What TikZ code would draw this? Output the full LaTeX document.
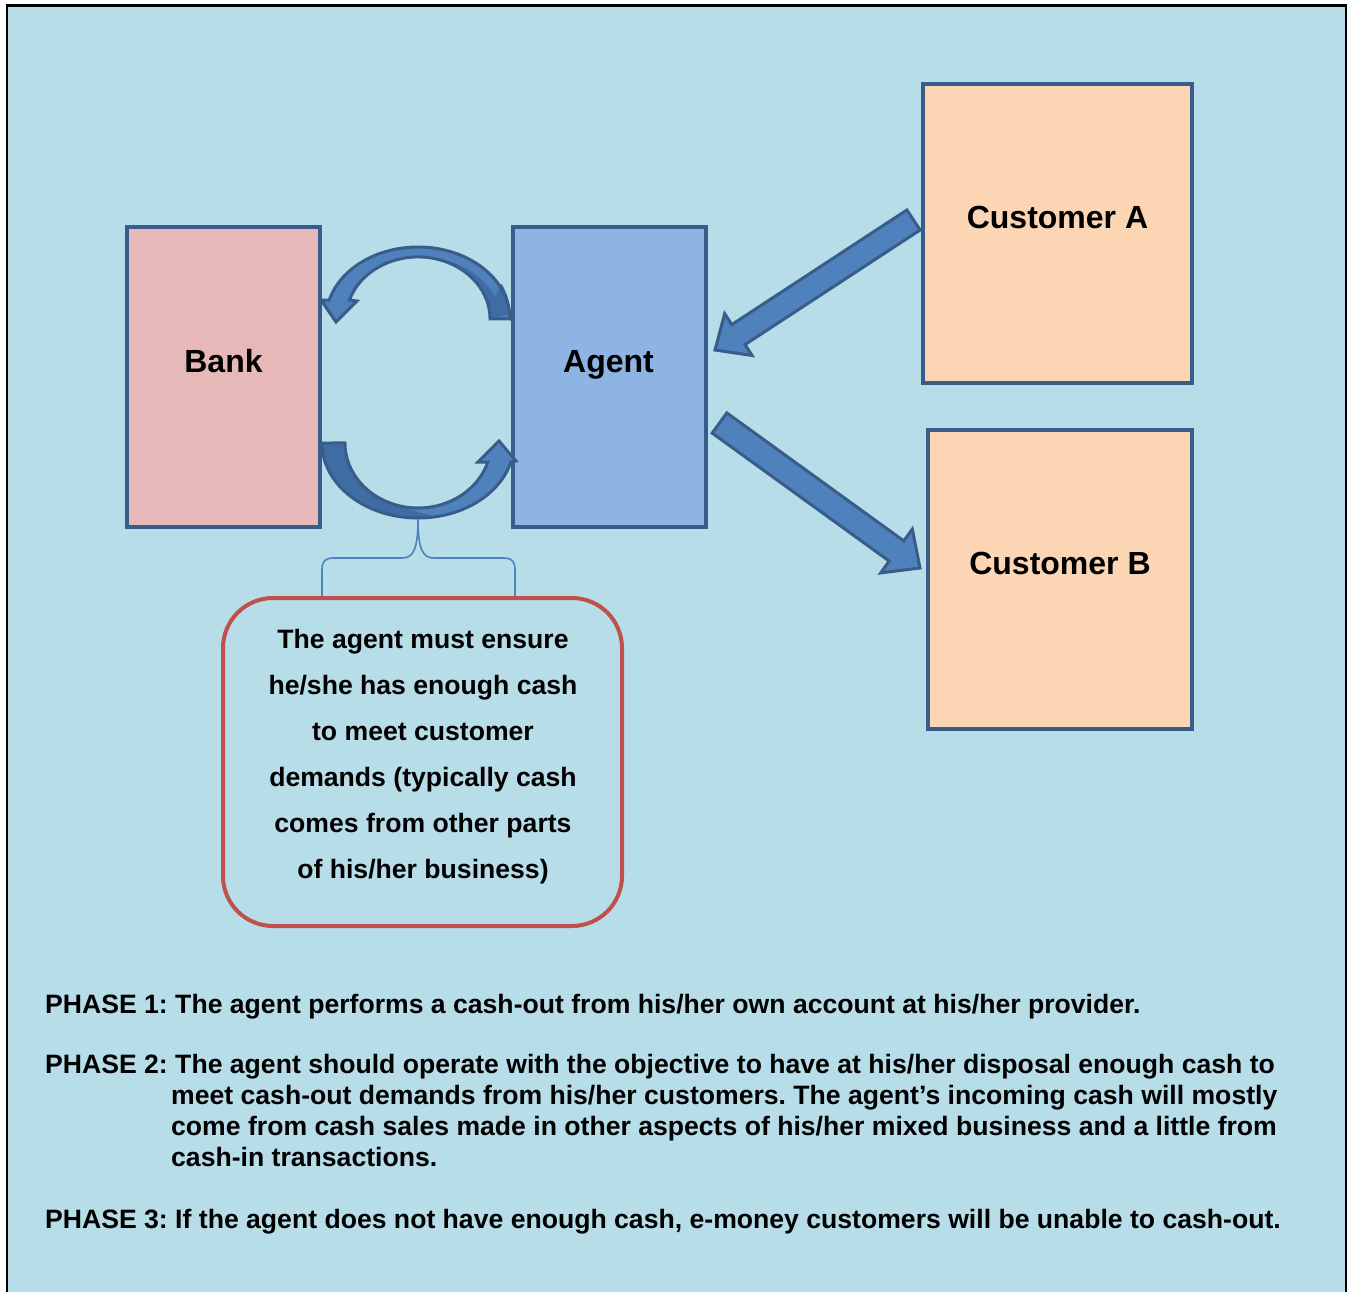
\documentclass[tikz,border=0pt]{standalone}
\usepackage{fontspec}
\setmainfont{Liberation Sans}
\frenchspacing
\definecolor{bgblue}{HTML}{B7DDE8}
\definecolor{edgeblue}{HTML}{385D8A}
\definecolor{arrowblue}{HTML}{4F81BD}
\definecolor{arrowdark}{HTML}{3F6CA3}
\definecolor{bankpink}{HTML}{E6B9B8}
\definecolor{agentblue}{HTML}{8EB4E3}
\definecolor{custpeach}{HTML}{FCD5B5}
\definecolor{calloutred}{HTML}{C0504D}
% outlines of the two curved arrows of the cash loop
\newcommand\toploop{(510,319) arc[start angle=0, end angle=-164.7, x radius=92, y radius=72]
  -- (321,300) -- (336,322) -- (357,301) -- (349.5,300)
  arc[start angle=-162.2, end angle=0, x radius=72, y radius=62] -- cycle}
\newcommand\bottomloop{(322,443) arc[start angle=180, end angle=14.7, x radius=96, y radius=75]
  -- (516,461) -- (499,441) -- (478,462) -- (487.8,462)
  arc[start angle=17, end angle=180, x radius=73, y radius=65] -- cycle}
\begin{document}
\begin{tikzpicture}[x=1pt,y=-1pt,
  box/.style={draw=edgeblue, line width=4pt, inner sep=0pt, outer sep=0pt},
  boxlabel/.style={anchor=base, inner sep=0pt, font=\fontsize{32}{38}\selectfont\bfseries},
  notebox/.style={draw=calloutred, line width=4pt, rounded corners=50pt, inner sep=0pt, outer sep=0pt},
  noteline/.style={anchor=base, inner sep=0pt, font=\fontsize{26.6}{30}\selectfont\bfseries},
  phase/.style={anchor=base west, inner sep=0pt, font=\fontsize{26.6}{30}\selectfont\bfseries},
  blockarrow/.style={draw=edgeblue, fill=arrowblue, line width=3pt, line join=miter},
  arrowedge/.style={draw=edgeblue, line width=3pt, line join=miter},
  bracket/.style={draw=arrowblue, line width=1.6pt}]

% page and panel
\useasboundingbox (0,0) rectangle (1355,1292);
\fill[bgblue] (7,5) rectangle (1346,1300);
\draw[black, line width=2.5pt] (7,1300) -- (7,5.5) -- (1346,5.5) -- (1346,1300);

% the four parties
\node[box, fill=bankpink, minimum width=193pt, minimum height=300pt] (bank) at (223.5,377) {};
\node[box, fill=agentblue, minimum width=193pt, minimum height=300pt] (agent) at (609.5,377) {};
\node[box, fill=custpeach, minimum width=269pt, minimum height=299pt] (custA) at (1057.5,233.5) {};
\node[box, fill=custpeach, minimum width=264pt, minimum height=299pt] (custB) at (1060,579.5) {};

\node[boxlabel] (banklbl) at (223.5,372) {Bank};
\node[boxlabel] (agentlbl) at (608.5,372) {Agent};
\node[boxlabel] (custAlbl) at (1057.5,229) {Customer A};
\node[boxlabel] (custBlbl) at (1060,574) {Customer B};

% curved arrow: agent back to bank (over the top), back face shaded darker
\fill[arrowblue] \toploop;
\fill[arrowdark] (501.5,283.6) arc[start angle=-25, end angle=0, x radius=92, y radius=72]
  -- (490,319) arc[start angle=0, end angle=-100, x radius=72, y radius=62]
  arc[start angle=-100, end angle=-25, x radius=83, y radius=69];
\path[arrowedge] \toploop;
% curved arrow: bank to agent (underneath), back face shaded darker
\fill[arrowblue] \bottomloop;
\fill[arrowdark] (322,443) arc[start angle=180, end angle=80, x radius=96, y radius=75]
  arc[start angle=80, end angle=160, x radius=86, y radius=70]
  arc[start angle=160, end angle=180, x radius=96, y radius=75]
  -- (345,443) arc[start angle=180, end angle=165, x radius=73, y radius=65] -- cycle;
\fill[arrowdark] (322,443) arc[start angle=180, end angle=80, x radius=96, y radius=75]
  -- (405.3,508.0) arc[start angle=100, end angle=180, x radius=73, y radius=65] -- cycle;
\path[arrowedge] \bottomloop;

% straight arrows: customer A to agent, agent to customer B
\path[blockarrow] (906.9,210) -- (731.8,324.6) -- (724.7,313.7) -- (715,350)
  -- (752.1,355.5) -- (745,344.6) -- (920.1,230) -- cycle;
\path[blockarrow] (726.8,412.9) -- (903.8,540.9) -- (912.3,529.1) -- (920,568)
  -- (880.7,572.9) -- (889.2,561.1) -- (712.2,433.1) -- cycle;

% bracket tying the cash loop to the note
\draw[bracket] (322,596) -- (322,570) .. controls (322,561) and (325,558) .. (334,558)
  -- (402,558) .. controls (413,558) and (418,550) .. (418,519)
  .. controls (418,550) and (423,558) .. (434,558)
  -- (503,558) .. controls (512,558) and (515,561) .. (515,570) -- (515,596);

% note
\node[notebox, minimum width=399pt, minimum height=328pt] (note) at (422.5,762) {};
\node[noteline] (n1) at (423,648) {The agent must ensure};
\node[noteline] (n2) at (423,694) {he/she has enough cash};
\node[noteline] (n3) at (423,740) {to meet customer};
\node[noteline] (n4) at (423,786) {demands (typically cash};
\node[noteline] (n5) at (423,832) {comes from other parts};
\node[noteline] (n6) at (423,878) {of his/her business)};

% phase descriptions
\node[phase] (p1) at (45,1013) {PHASE 1: The agent performs a cash-out from his/her own account at his/her provider.};
\node[phase] (p2) at (45,1073) {PHASE 2: The agent should operate with the objective to have at his/her disposal enough cash to};
\node[phase] (p2b) at (171,1104) {meet cash-out demands from his/her customers. The agent’s incoming cash will mostly};
\node[phase] (p2c) at (171,1135) {come from cash sales made in other aspects of his/her mixed business and a little from};
\node[phase] (p2d) at (171,1166) {cash-in transactions.};
\node[phase] (p3) at (45,1228) {PHASE 3: If the agent does not have enough cash, e-money customers will be unable to cash-out.};
\end{tikzpicture}
\end{document}
